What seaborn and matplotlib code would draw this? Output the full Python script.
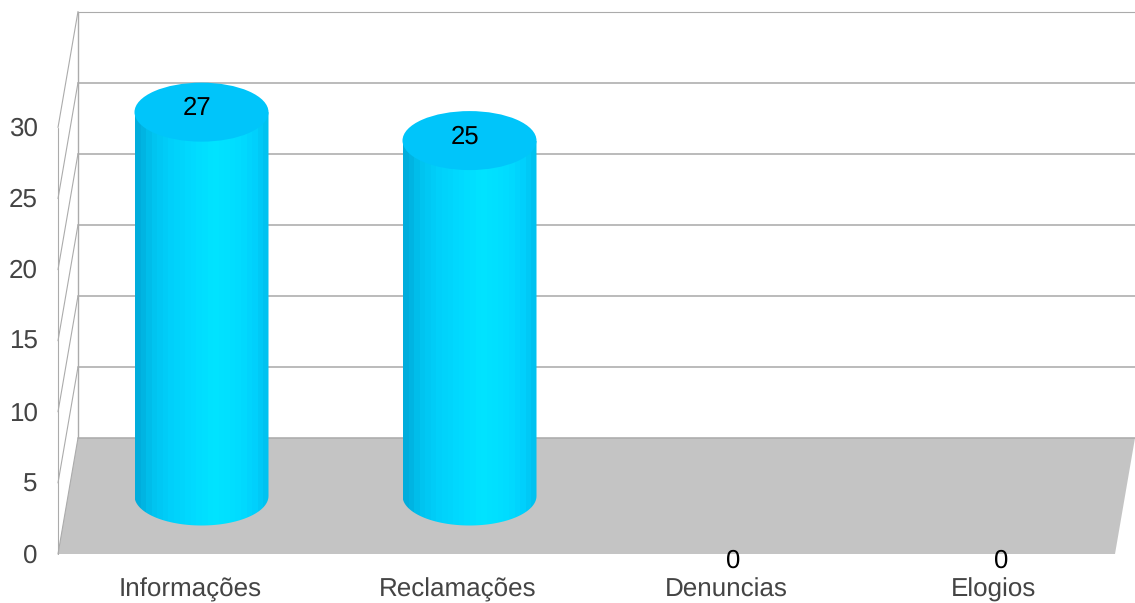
import numpy as np
import pandas as pd
import matplotlib
matplotlib.use("Agg")
import matplotlib.pyplot as plt
from matplotlib.colors import LinearSegmentedColormap
from matplotlib.patches import Ellipse, Polygon
from matplotlib.transforms import ScaledTranslation
import seaborn as sns

categories = ["Informações", "Reclamações", "Denuncias", "Elogios"]
values = [27, 25, 0, 0]
y_ticks = [0, 5, 10, 15, 20, 25, 30]

GRID = "#ABABAB"
FLOOR = "#C4C4C4"
TICK_TEXT = "#444444"
CAP = "#00C5FA"

sns.set_theme(style="white")
plt.rcParams["font.family"] = ["Liberation Sans", "DejaVu Sans"]
plt.rcParams["text.hinting"] = "no_hinting"

W, H = 1135, 603
fig = plt.figure(figsize=(W / 100, H / 100), dpi=100)
# Axes cover the front plane of the 3D box; the walls and floor extend past it
ax = fig.add_axes([58 / W, 1 - 554 / H, (1115 - 58) / W, (554 - 127.5) / H])

frame = pd.DataFrame({"categoria": categories, "total": values})
sns.barplot(data=frame, x="categoria", y="total", color="#00D0FF", width=0.5, ax=ax, zorder=4)

px_x = 268.0
px_y = (554 - 127.5) / 30
xmin, xmax = (58 - 190) / px_x, (1115 - 190) / px_x
depth_x, depth_y = 20 / px_x, 116 / px_y
xback_max = xmin + (1135 - 58) / px_x

# Floor and back/side walls
ax.add_patch(Polygon([(xmin, 0), (xmax, 0), (xmax + depth_x, depth_y), (xmin + depth_x, depth_y)],
                     closed=True, fc=FLOOR, ec="none", clip_on=False, zorder=1))
for v in y_ticks:
    lw = 0.8 if v == y_ticks[-1] else 1.15
    ax.plot([xmin + depth_x, xback_max], [v + depth_y] * 2, color=GRID, lw=lw, clip_on=False, zorder=2)
    ax.plot([xmin, xmin + depth_x], [v, v + depth_y], color=GRID, lw=0.8, clip_on=False, zorder=2)
ax.plot([xmin + depth_x] * 2, [depth_y, y_ticks[-1] + depth_y], color=GRID, lw=1.0, clip_on=False, zorder=2)
ax.plot([xmin, xmin], [0, y_ticks[-1]], color=GRID, lw=0.8, clip_on=False, zorder=2)

# Cylinders: each seaborn bar is moved to mid-depth and shaded with vertical bands
stops = [(0.0, "#00ADDC"), (0.05, "#00B6E4"), (0.12, "#00C4F0"), (0.25, "#00D0FA"),
         (0.42, "#00DAFF"), (0.6, "#00E4FF"), (0.8, "#00DCFF"), (0.92, "#00D0FC"), (1.0, "#00C2F0")]
bands = LinearSegmentedColormap.from_list("cilindro", stops)
shift_x, shift_y = 11.5 / px_x, 58 / px_y
half_w, ry = 0.25, 29.5 / px_y
theta = np.linspace(np.pi, 2 * np.pi, 80)

for bar, total in zip(ax.patches, values):
    if total == 0:
        bar.set_visible(False)
        continue
    x0 = bar.get_x() + shift_x
    cx = x0 + half_w
    bar.set_x(x0)
    base = depth_y - shift_y
    bar.set_y(base)
    top = base + total
    outline = np.vstack([
        np.column_stack([cx + half_w * np.cos(theta), base + ry * np.sin(theta)]),
        [(cx + half_w, top), (cx - half_w, top)],
    ])
    shape = Polygon(outline, closed=True, fc="none", ec="none", transform=ax.transData, clip_on=False)
    ax.add_patch(shape)
    img = ax.imshow(np.linspace(0, 1, 24)[None, :], cmap=bands, aspect="auto", interpolation="nearest",
                    extent=(cx - half_w, cx + half_w, base - ry, top), zorder=5)
    img.set_clip_box(fig.bbox)
    img.set_clip_path(shape)
    bar.set_visible(False)
    ax.add_patch(Ellipse((cx, top), 2 * half_w, 2 * ry, fc=CAP, ec="none", clip_on=False, zorder=6))

# Value labels sit on the cap, or just under the floor edge when the count is zero
for i, total in enumerate(values):
    offset = 61.5 if total > 0 else -7.5
    ax.annotate(str(total), (i, total), xytext=(6.8 * 0.72, offset * 0.72), textcoords="offset points",
                ha="center", va="center", fontsize=18.5, color="black", zorder=8, annotation_clip=False)

ax.set_xlim(xmin, xmax)
ax.set_ylim(0, 30)
ax.set_xlabel("")
ax.set_ylabel("")
ax.set_yticks(y_ticks)
ax.patch.set_visible(False)
ax.tick_params(axis="y", length=0, pad=14.5, labelsize=18.7, labelcolor=TICK_TEXT)
ax.tick_params(axis="x", length=0, pad=17.3, labelsize=18.7, labelcolor=TICK_TEXT)
for label in ax.get_yticklabels():
    label.set_transform(label.get_transform() + ScaledTranslation(0, 1 / 100, fig.dpi_scale_trans))
sns.despine(ax=ax, left=True, bottom=True)

fig.savefig("out.png", dpi=100, facecolor="white")
